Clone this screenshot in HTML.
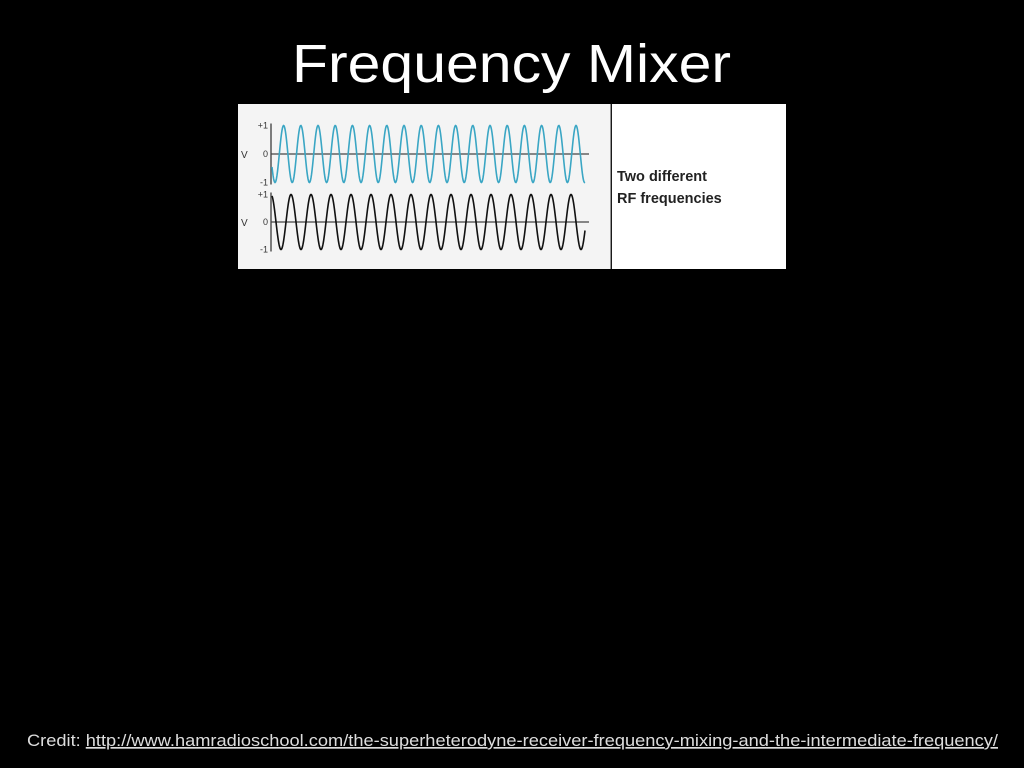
<!DOCTYPE html>
<html><head><meta charset="utf-8"><style>
html,body{margin:0;padding:0;background:#000;width:1024px;height:768px;overflow:hidden}
svg{display:block}
</style></head><body>
<svg id="slide" width="1024" height="768" viewBox="0 0 1024 768">
<text x="292" y="82" font-family="Liberation Sans, sans-serif" font-size="54" fill="#fff" textLength="439" lengthAdjust="spacingAndGlyphs">Frequency Mixer</text>
<g>
<rect x="238" y="104" width="373" height="165" fill="#f4f4f4"/>
<rect x="612" y="104" width="174" height="165" fill="#fff"/>
<line x1="611" y1="104" x2="611" y2="269" stroke="#333" stroke-width="1"/>
<text x="617" y="181" font-family="Liberation Sans, sans-serif" font-weight="bold" font-size="14.5" fill="#222">Two different</text>
<text x="617" y="203" font-family="Liberation Sans, sans-serif" font-weight="bold" font-size="14.5" fill="#222">RF frequencies</text>
<g id="plots"></g>
</g>
<text x="27" y="746" font-family="Liberation Sans, sans-serif" font-size="17" fill="#ddd" textLength="971" lengthAdjust="spacingAndGlyphs">Credit: <tspan text-decoration="underline">http://www.hamradioschool.com/the-superheterodyne-receiver-frequency-mixing-and-the-intermediate-frequency/</tspan></text>
</svg>
<script>
// chart data
const seriesNames = ['rf-signal-1','rf-signal-2'];
const seriesColors = ['#3aa6c4','#111'];
const periodsPx = [17.2, 20.0];      // wave period in px along time axis
const phases = [186, 90];            // start phase in degrees
const amplitudes = [1, 1];
const tickLabels = ['+1','0','-1'];
const tickValues = [1,0,-1];

const panels = [{zero:154,half:28.5},{zero:222,half:27.5}];
const x0 = 271, x1 = 589, waveEnd = 585;
const g = document.getElementById('plots');
const NS = 'http://www.w3.org/2000/svg';
function mk(t,a){const e=document.createElementNS(NS,t);for(const k in a)e.setAttribute(k,a[k]);g.appendChild(e);return e;}
for (let s=0;s<2;s++){
  const p = panels[s];
  const y = v => p.zero - v*p.half;
  let d='';
  for(let x=x0+1;x<=waveEnd;x+=0.5){
    const v = amplitudes[s]*Math.sin(2*Math.PI*(x-x0)/periodsPx[s] + phases[s]*Math.PI/180);
    d += (d?'L':'M')+x.toFixed(1)+','+y(v).toFixed(2);
  }
  const ax = mk('line',{x1:x0,y1:y(1)-2,x2:x0,y2:y(-1)+2,stroke:'#555','stroke-width':1.5});
  
  
  const zl = mk('line',{x1:x0,y1:y(0),x2:x1,y2:y(0),stroke:'#444','stroke-width':1.2});
  
  
  const path = mk('path',{d:d,fill:'none',stroke:seriesColors[s],'stroke-width':1.6});
  
  
  for(let i=0;i<tickValues.length;i++){
    const t = mk('text',{x:268,y:y(tickValues[i])+3,'text-anchor':'end','font-family':'Liberation Sans, sans-serif','font-size':9,fill:'#333'});
    t.textContent = tickLabels[i];
    
    
  }
  const vl = mk('text',{x:241,y:y(0)+4,'font-family':'Liberation Sans, sans-serif','font-size':10,fill:'#333'});
  vl.textContent='V';
  
  
}
</script>
</body></html>
